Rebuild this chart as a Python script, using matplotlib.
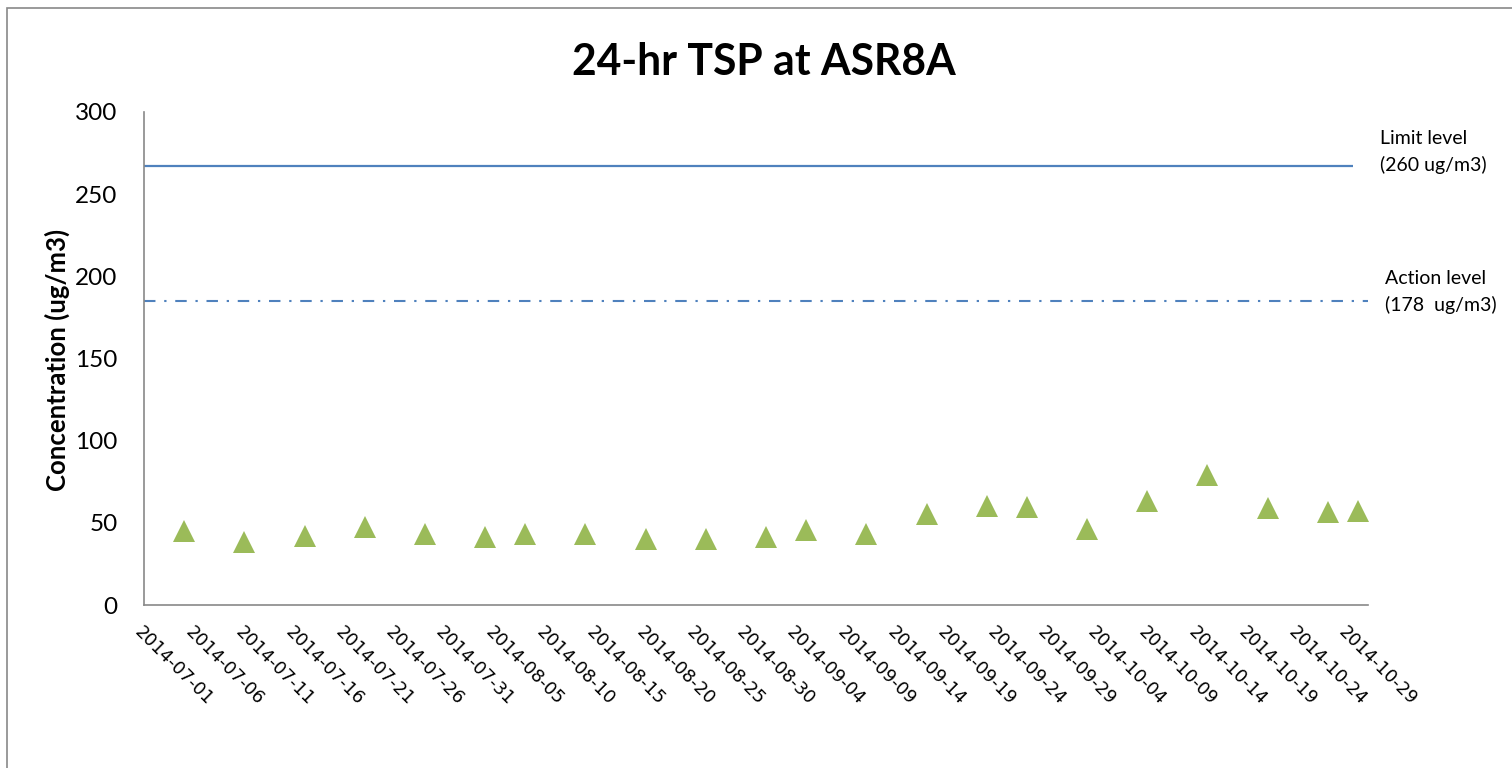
import matplotlib
matplotlib.use("Agg")
import matplotlib.pyplot as plt
import matplotlib.dates as mdates
import numpy as np
from matplotlib.patches import Rectangle

# sample dates and 24-hr TSP readings (ug/m3)
dates = np.array([
    "2014-07-05", "2014-07-11", "2014-07-17", "2014-07-23", "2014-07-29",
    "2014-08-04", "2014-08-08", "2014-08-14", "2014-08-20", "2014-08-26",
    "2014-09-01", "2014-09-05", "2014-09-11", "2014-09-17", "2014-09-23",
    "2014-09-27", "2014-10-03", "2014-10-09", "2014-10-15", "2014-10-21",
    "2014-10-27", "2014-10-30",
], dtype="datetime64[h]")
tsp = [45.3, 38.2, 42.2, 47.3, 43.3, 41.2, 43.3, 43.4, 40.4, 40.4, 41.2,
       45.5, 43.4, 55.3, 60.3, 59.5, 46.3, 63.1, 79.3, 59.3, 56.3, 57.2]

limit_dates = np.array(["2014-07-01T00", "2014-10-29T12"], dtype="datetime64[h]")
limit_vals = [267, 267]
action_dates = np.array(["2014-07-01T00", "2014-10-31T00"], dtype="datetime64[h]")
action_vals = [185, 185]

x_start = np.datetime64("2014-07-01")
x_end = np.datetime64("2014-10-31")
tick_dates = np.arange(x_start, np.datetime64("2014-10-30"), np.timedelta64(5, "D"))
yticks = [0, 50, 100, 150, 200, 250, 300]

blue = "#4F81BD"
green = "#9BBB59"
grey = "#898989"
calibri_like = ["Lato", "DejaVu Sans"]

fig = plt.figure(figsize=(15.12, 7.68), dpi=100)
fig.patches.append(Rectangle((7 / 1512, -0.1), 1.2, 1 - 8 / 768 + 0.1,
                             transform=fig.transFigure, fill=False,
                             edgecolor=grey, linewidth=1.2))
ax = fig.add_axes([144 / 1512, 1 - 605 / 768, (1368 - 144) / 1512, (605 - 112) / 768])

ax.plot(limit_dates, limit_vals, color=blue, linewidth=1.6, solid_capstyle="butt")
ax.plot(action_dates, action_vals, color=blue, linewidth=1.5,
        linestyle=(0, (5.5, 4.2, 1.1, 4.2)), dash_capstyle="butt")
ax.plot(dates, tsp, linestyle="none", marker="^", markersize=15.5,
        color=green, markeredgewidth=0)

ax.set_xlim(x_start, x_end)
ax.set_ylim(0, 300)
ax.set_yticks(yticks)
ax.set_xticks(tick_dates.astype("datetime64[D]").astype(object))
ax.xaxis.set_major_formatter(mdates.DateFormatter("%Y-%m-%d"))

for s in ["top", "right"]:
    ax.spines[s].set_visible(False)
for s in ["left", "bottom"]:
    ax.spines[s].set_color(grey)
    ax.spines[s].set_linewidth(1.2)

ax.tick_params(axis="both", length=0)
ax.tick_params(axis="y", pad=19, labelsize=17.5)
ax.tick_params(axis="x", pad=13, labelsize=12.8)
for lab in ax.get_yticklabels():
    lab.set_family(calibri_like)
for lab in ax.get_xticklabels():
    lab.set_rotation(-45)
    lab.set_ha("left")
    lab.set_va("top")
    lab.set_rotation_mode("anchor")
    lab.set_family("DejaVu Sans")

ax.set_ylabel("Concentration (ug/m3)", fontsize=18.5, fontweight="bold",
              family=calibri_like, va="center")
ax.yaxis.set_label_coords(-0.071, 0.497)

fig.text(764 / 1512, 1 - 62 / 768, "24-hr TSP at ASR8A", ha="center", va="center",
         fontsize=30.7, fontweight="bold", family=calibri_like)

fig.text(1380 / 1512, 1 - 152 / 768, "Limit level\n(260 ug/m3)", ha="left", va="center",
         fontsize=14, family=calibri_like, linespacing=1.55)
fig.text(1385 / 1512, 1 - 292 / 768, "Action level\n(178  ug/m3)", ha="left", va="center",
         fontsize=14, family=calibri_like, linespacing=1.55)

fig.savefig("out.png", dpi=100, facecolor="white")
